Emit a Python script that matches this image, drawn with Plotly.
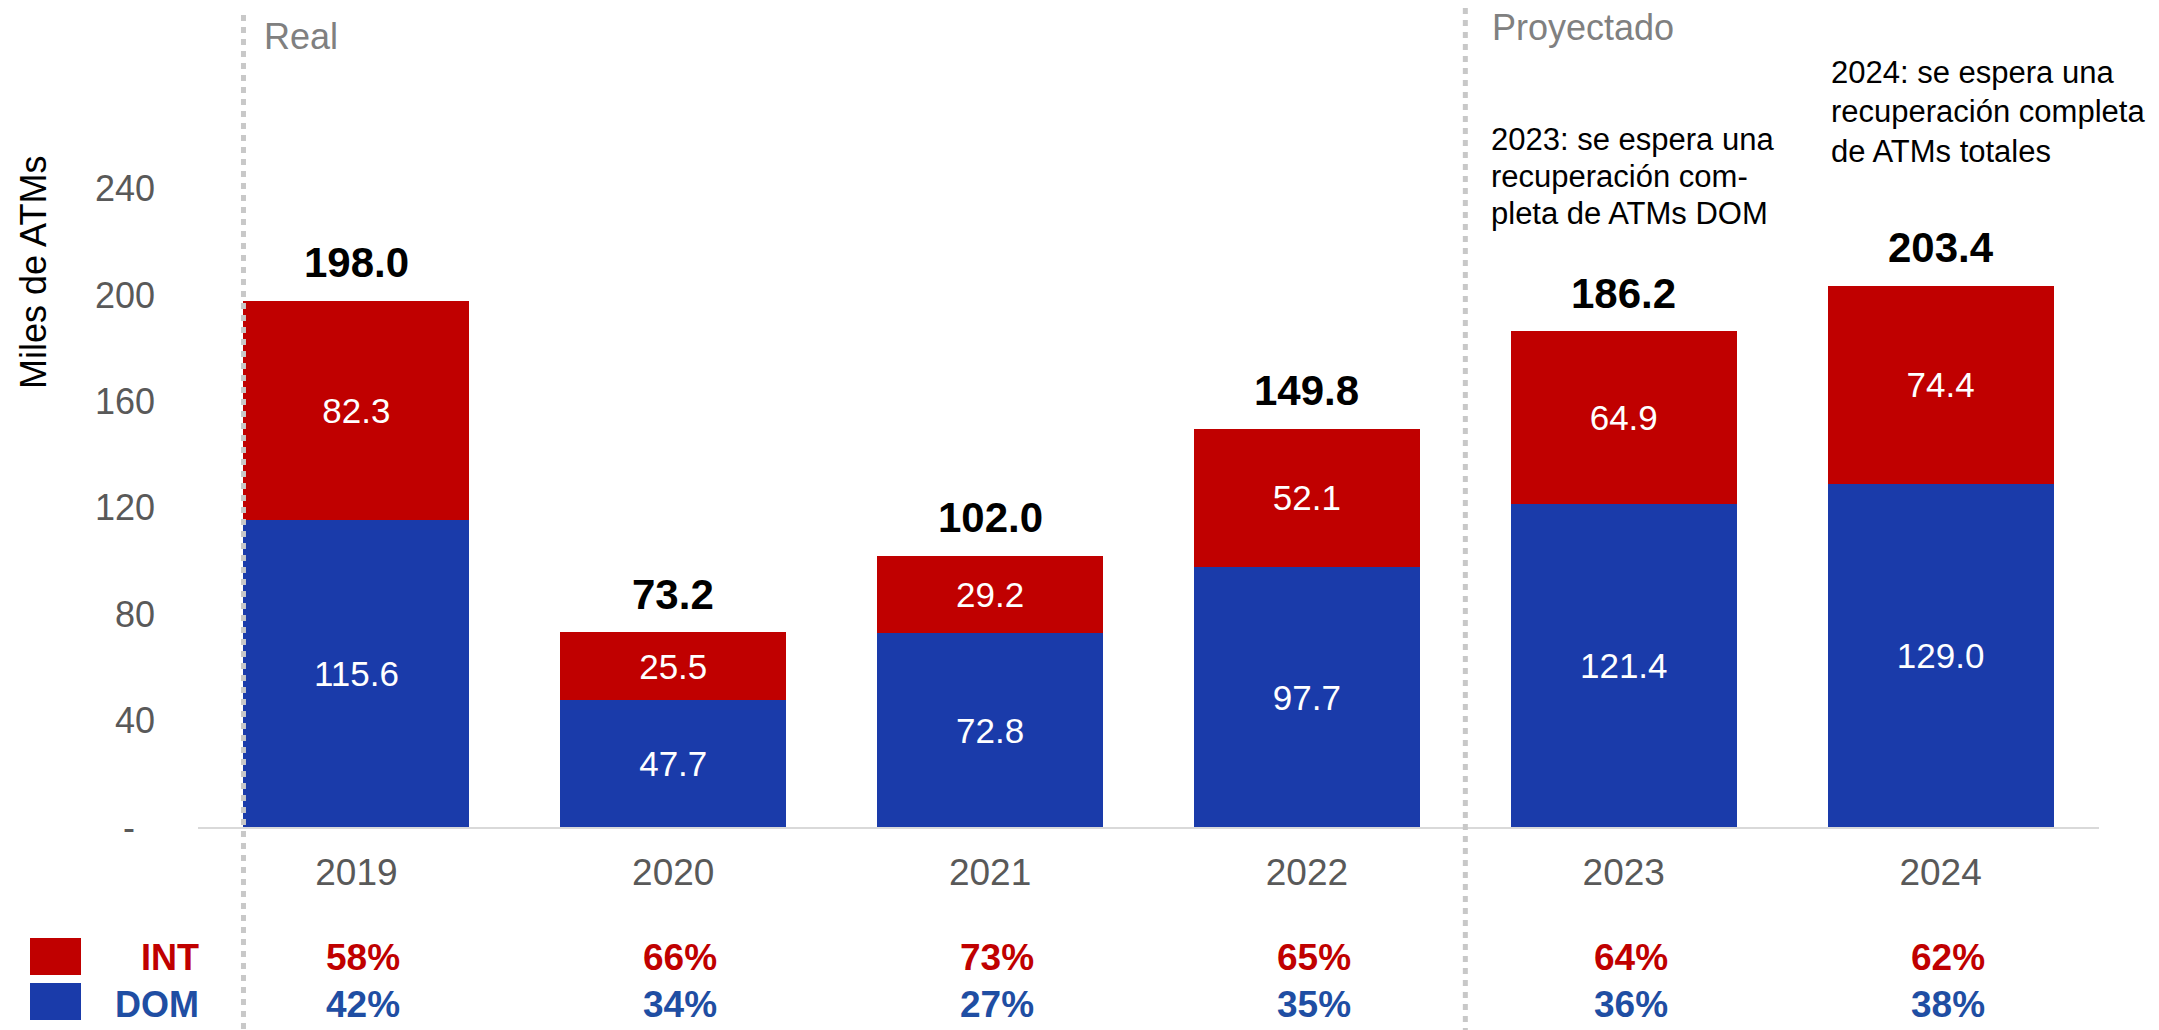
import plotly.graph_objects as go

# ---- data ----
years = ["2019", "2020", "2021", "2022", "2023", "2024"]
dom_vals = [115.6, 47.7, 72.8, 97.7, 121.4, 129.0]
int_vals = [82.3, 25.5, 29.2, 52.1, 64.9, 74.4]
totals = [198.0, 73.2, 102.0, 149.8, 186.2, 203.4]
int_pct = ["58%", "66%", "73%", "65%", "64%", "62%"]
dom_pct = ["42%", "34%", "27%", "35%", "36%", "38%"]
y_ticks = [0, 40, 80, 120, 160, 200, 240]
y_ticklabels = ["-\u00a0\u00a0", "40", "80", "120", "160", "200", "240"]

RED = "#C00000"
BLUE = "#1A3BAA"
BLUE_TXT = "#1F4EA3"
FONT = "Liberation Sans, Arial, sans-serif"

W, H = 2159, 1030
ML, MR, MT, MB = 198, 60, 29, 203
PH = H - MT - MB


def py(p):
    """pixel y (from top) -> paper y"""
    return (H - MB - p) / PH


def px(p):
    return (p - ML) / (W - ML - MR)


BARGAP = 0.287

fig = go.Figure()
fig.add_trace(go.Bar(
    x=years, y=dom_vals, name="DOM", marker=dict(color=BLUE, line=dict(width=0)),
    text=[f"{v:.1f}" for v in dom_vals], textposition="inside",
    insidetextanchor="middle", textangle=0, constraintext="none",
    textfont=dict(family=FONT, size=35, color="white"),
))
fig.add_trace(go.Bar(
    x=years, y=int_vals, name="INT", marker=dict(color=RED, line=dict(width=0)),
    text=[f"{v:.1f}" for v in int_vals], textposition="inside",
    insidetextanchor="middle", textangle=0, constraintext="none",
    textfont=dict(family=FONT, size=35, color="white"),
))

annotations = []
# totals
for i, t in enumerate(totals):
    annotations.append(dict(
        x=i, y=t, xref="x", yref="y", text=f"<b>{t:.1f}</b>", showarrow=False,
        yanchor="middle", yshift=38, font=dict(family=FONT, size=42, color="black"),
    ))
# percentages
for i, (ip, dp) in enumerate(zip(int_pct, dom_pct)):
    annotations.append(dict(
        x=i, y=py(958), xref="x", yref="paper", text=f"<b>{ip}</b>", showarrow=False,
        yanchor="middle", xshift=7, font=dict(family=FONT, size=37, color=RED),
    ))
    annotations.append(dict(
        x=i, y=py(1004), xref="x", yref="paper", text=f"<b>{dp}</b>", showarrow=False,
        yanchor="middle", xshift=7, font=dict(family=FONT, size=37, color=BLUE_TXT),
    ))
# legend labels
annotations.append(dict(x=px(201), y=py(957), xref="paper", yref="paper", text="<b>INT</b>",
                        showarrow=False, xanchor="right", yanchor="middle",
                        font=dict(family=FONT, size=36, color=RED)))
annotations.append(dict(x=px(201), y=py(1004), xref="paper", yref="paper", text="<b>DOM</b>",
                        showarrow=False, xanchor="right", yanchor="middle",
                        font=dict(family=FONT, size=36, color=BLUE_TXT)))
# y title
annotations.append(dict(x=px(33), y=py(273), xref="paper", yref="paper", text="Miles de ATMs",
                        showarrow=False, textangle=-90, xanchor="center", yanchor="middle",
                        font=dict(family=FONT, size=36, color="black")))
# section labels
annotations.append(dict(x=px(262), y=py(36), xref="paper", yref="paper", text="Real",
                        showarrow=False, xanchor="left", yanchor="middle",
                        font=dict(family=FONT, size=36, color="#808080")))
annotations.append(dict(x=px(1490), y=py(27), xref="paper", yref="paper", text="Proyectado",
                        showarrow=False, xanchor="left", yanchor="middle",
                        font=dict(family=FONT, size=36, color="#808080")))
# notes
note23 = ["2023: se espera una", "recuperación com-", "pleta de ATMs DOM"]
note23_y = [139, 176, 213]
for line, yy in zip(note23, note23_y):
    annotations.append(dict(x=px(1489), y=py(yy), xref="paper", yref="paper", text=line,
                            showarrow=False, xanchor="left", yanchor="middle",
                            font=dict(family=FONT, size=31, color="black")))
note24 = ["2024: se espera una", "recuperación completa", "de ATMs totales"]
note24_y = [72, 111, 151]
for line, yy in zip(note24, note24_y):
    annotations.append(dict(x=px(1829), y=py(yy), xref="paper", yref="paper", text=line,
                            showarrow=False, xanchor="left", yanchor="middle",
                            font=dict(family=FONT, size=31, color="black")))

DASH = dict(color="#C8C8C8", width=5, dash="6px,6px")
shapes = [
    dict(type="line", xref="x", yref="paper", x0=-0.5 + BARGAP / 2, x1=-0.5 + BARGAP / 2,
         y0=py(15), y1=py(1030), line=DASH),
    dict(type="line", xref="x", yref="paper", x0=3.5, x1=3.5,
         y0=py(8), y1=py(1030), line=DASH),
    dict(type="rect", xref="paper", yref="paper", x0=px(30), x1=px(81), y0=py(975), y1=py(938),
         fillcolor=RED, line=dict(width=0)),
    dict(type="rect", xref="paper", yref="paper", x0=px(30), x1=px(81), y0=py(1020), y1=py(983),
         fillcolor=BLUE, line=dict(width=0)),
]

fig.update_layout(
    width=W, height=H, barmode="stack", bargap=BARGAP,
    margin=dict(l=ML, r=MR, t=MT, b=MB, pad=0),
    paper_bgcolor="white", plot_bgcolor="white", showlegend=False,
    font=dict(family=FONT),
    annotations=annotations, shapes=shapes,
    xaxis=dict(type="category", range=[-0.5, 5.5], showgrid=False, showline=True,
               linecolor="#D9D9D9", linewidth=2, ticks="", ticklabelstandoff=12,
               tickfont=dict(family=FONT, size=37, color="#595959"), zeroline=False),
    yaxis=dict(range=[0, 300], tickvals=y_ticks, ticktext=y_ticklabels, showgrid=False,
               showline=False, zeroline=False, ticks="", ticklabelstandoff=42,
               tickfont=dict(family=FONT, size=36, color="#595959")),
)

fig.write_html("out.html", config={"displayModeBar": False},
               post_script="document.body.style.margin='0px';")
